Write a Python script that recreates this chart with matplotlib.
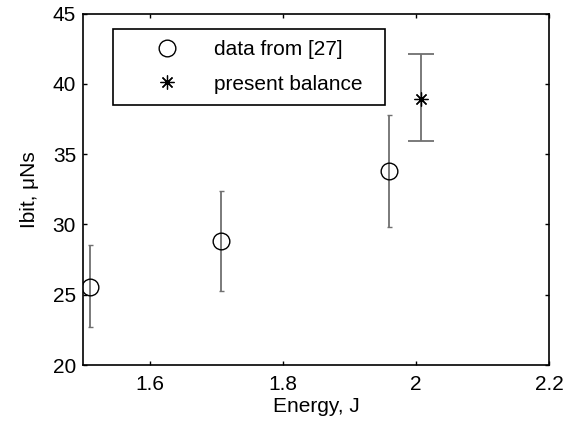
import matplotlib
matplotlib.use('Agg')
import matplotlib.pyplot as plt
from matplotlib.lines import Line2D

plt.rcParams['font.family'] = ['Liberation Sans', 'DejaVu Sans']

# Impulse bit vs. discharge energy
ref_energy = [1.51, 1.708, 1.96]
ref_ibit = [25.56, 28.85, 33.83]
ref_err_lo = [2.82, 3.55, 3.98]
ref_err_hi = [3.01, 3.53, 3.96]

bal_energy = [2.007]
bal_ibit = [38.9]
bal_err_lo = [2.94]
bal_err_hi = [3.2]

xticks = [1.6, 1.8, 2.0, 2.2]
xticklabels = ['1.6', '1.8', '2', '2.2']
yticks = [20, 25, 30, 35, 40, 45]

FS = 15
star = (8, 2, 0)

fig = plt.figure(figsize=(5.66, 4.29), dpi=100)
ax = fig.add_axes([0.1466, 0.149, 0.8234, 0.8195])

err_col = '#707070'
ax.errorbar(ref_energy, ref_ibit, yerr=[ref_err_lo, ref_err_hi], fmt='o',
            mfc='none', mec='black', mew=1.0, ms=12, ecolor=err_col,
            elinewidth=1.3, capsize=1.8, capthick=1.3)
ax.errorbar(bal_energy, bal_ibit, yerr=[bal_err_lo, bal_err_hi], fmt='none',
            ecolor=err_col, elinewidth=1.3, capsize=9.4, capthick=1.3)
ax.plot(bal_energy, bal_ibit, linestyle='none', marker=star, ms=10,
        mec='black', mew=0.9)

ax.set_xlim(1.5, 2.2)
ax.set_ylim(20, 45)
ax.set_xticks(xticks)
ax.set_xticklabels(xticklabels)
ax.set_yticks(yticks)
ax.tick_params(direction='in', length=3, width=1, top=True, right=True,
               labelsize=FS, colors='black')
ax.tick_params(axis='x', pad=7)
ax.tick_params(axis='y', pad=5)
for s in ax.spines.values():
    s.set_linewidth(1.2)

ax.set_xlabel('Energy, J', fontsize=FS, labelpad=2)
ax.set_ylabel('Ibit, μNs', fontsize=FS, labelpad=10)

handles = [
    Line2D([], [], linestyle='none', marker='o', mfc='none', mec='black',
           mew=1.0, ms=12),
    Line2D([], [], linestyle='none', marker=star, mec='black', mew=0.9, ms=10),
]
labels = ['data from [27]', 'present balance']
# legend box spans a fixed width; height follows the entries
leg = ax.legend(handles, labels, loc='upper left',
                bbox_to_anchor=(0.064, 0.738, 0.584, 0.219), mode='expand',
                fontsize=FS, frameon=True, fancybox=False, framealpha=1,
                edgecolor='black', borderaxespad=0, borderpad=0.55,
                handlelength=4.1, handletextpad=0.2, labelspacing=0.75,
                numpoints=1)
leg.get_frame().set_linewidth(1.2)

fig.savefig('out.png', dpi=100)
